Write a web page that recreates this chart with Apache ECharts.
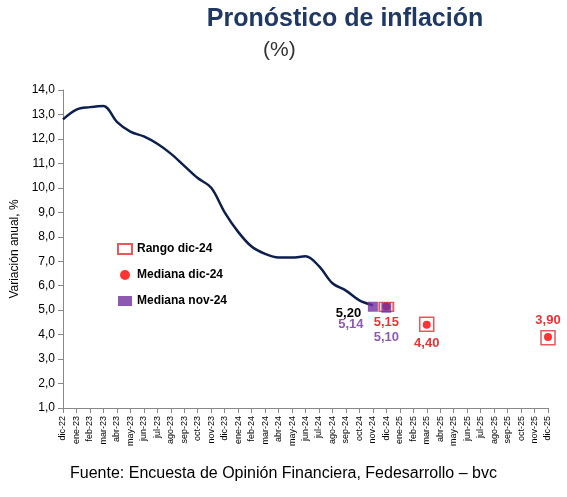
<!DOCTYPE html>
<html><head><meta charset="utf-8">
<script src="https://cdn.jsdelivr.net/npm/echarts@6/dist/echarts.min.js"></script>
<style>html,body{margin:0;background:#fff}#chart{width:567px;height:497px}</style>
</head><body><div id="chart"></div>
<script>
var months = ['dic-22','ene-23','feb-23','mar-23','abr-23','may-23','jun-23','jul-23','ago-23','sep-23','oct-23','nov-23',
  'dic-23','ene-24','feb-24','mar-24','abr-24','may-24','jun-24','jul-24','ago-24','sep-24','oct-24','nov-24',
  'dic-24','ene-25','feb-25','mar-25','abr-25','may-25','jun-25','jul-25','ago-25','sep-25','oct-25','nov-25','dic-25'];
var observed = [12.8,13.2,13.3,13.35,12.7,12.3,12.1,11.8,11.4,10.9,10.4,10.0,
  9.0,8.2,7.6,7.3,7.15,7.15,7.2,6.8,6.1,5.8,5.4,5.2];
var rangoDic24 = [['dic-24',5.13],['mar-25',4.42],['dic-25',3.87]];
var rangoSize = [[14,9],[14,14],[14,14]];
var medianaDic24 = [['dic-24',5.15],['mar-25',4.40],['dic-25',3.90]];
var medianaNov24 = [['nov-24',5.14],['dic-24',5.10]];

var chart = echarts.init(document.getElementById('chart'));
var fmt = function(p){return p.value[1].toFixed(2).replace('.',',');};
chart.setOption({
  animation:false,
  title:{text:'Pronóstico de inflación',left:340,textAlign:'center',top:2,
    textStyle:{fontFamily:'Arial',fontSize:25,fontWeight:'bold',color:'#1f3864'}},
  graphic:[
    {type:'text',left:263,top:40,style:{text:'(%)',font:'21px Arial',fill:'#333'}},
    {type:'text',left:'center',top:466,style:{text:'Fuente: Encuesta de Opinión Financiera, Fedesarrollo – bvc',
    font:'16px Arial',fill:'#000'}}],
  legend:{orient:'vertical',left:112,top:238,itemGap:14,itemWidth:14,itemHeight:10,
    textStyle:{fontFamily:'Arial',fontWeight:'bold',fontSize:12,color:'#000'},
    data:[{name:'Rango dic-24',icon:'rect'},{name:'Mediana dic-24',icon:'circle'},{name:'Mediana nov-24',icon:'rect'}]},
  grid:{left:63,right:19,top:90,bottom:89},
  xAxis:{type:'category',data:months,boundaryGap:false,
    axisLine:{lineStyle:{color:'#888'}},axisTick:{alignWithLabel:true,lineStyle:{color:'#888'}},
    axisLabel:{rotate:90,interval:0,fontFamily:'Arial',fontSize:9,color:'#000'}},
  yAxis:{type:'value',min:1,max:14,interval:1,name:'Variación anual, %',nameLocation:'middle',nameGap:38,
    nameTextStyle:{fontFamily:'Arial',fontSize:12,color:'#000'},
    axisLine:{show:true,lineStyle:{color:'#888'}},axisTick:{show:true},splitLine:{show:false},
    axisLabel:{fontFamily:'Arial',fontSize:12,color:'#000',formatter:function(v){return v.toFixed(1).replace('.',',');}}},
  series:[
    {name:'Observado',type:'line',data:observed,smooth:0.35,symbol:'none',lineStyle:{color:'#0d1f4f',width:2.5},
      endLabel:{show:true,offset:[-45,8],formatter:'5,20',color:'#000',fontFamily:'Arial',fontWeight:'bold',fontSize:13}},
    {name:'Rango dic-24',type:'scatter',data:rangoDic24,symbol:'rect',
      symbolSize:function(v,p){return rangoSize[p.dataIndex];},
      itemStyle:{color:'#fff',borderColor:'#e03030',borderWidth:1.5},z:3},
    {name:'Mediana dic-24',type:'scatter',symbol:'circle',symbolSize:8,itemStyle:{color:'#ff0000'},z:4,
      label:{show:true,color:'#e00000',fontFamily:'Arial',fontWeight:'bold',fontSize:13,formatter:fmt,position:'bottom',distance:5},
      data:[{value:medianaDic24[0]},{value:medianaDic24[1],label:{distance:8}},{value:medianaDic24[2],label:{position:'top',distance:6}}]},
    {name:'Mediana nov-24',type:'scatter',symbol:'rect',symbolSize:10,itemStyle:{color:'#7030a0'},z:5,
      label:{show:true,color:'#7030a0',fontFamily:'Arial',fontWeight:'bold',fontSize:13,formatter:fmt,position:'bottom',distance:6},
      data:[{value:medianaNov24[0],label:{offset:[-22,0]}},{value:medianaNov24[1],label:{distance:18}}]}
  ]
});
</script></body></html>
